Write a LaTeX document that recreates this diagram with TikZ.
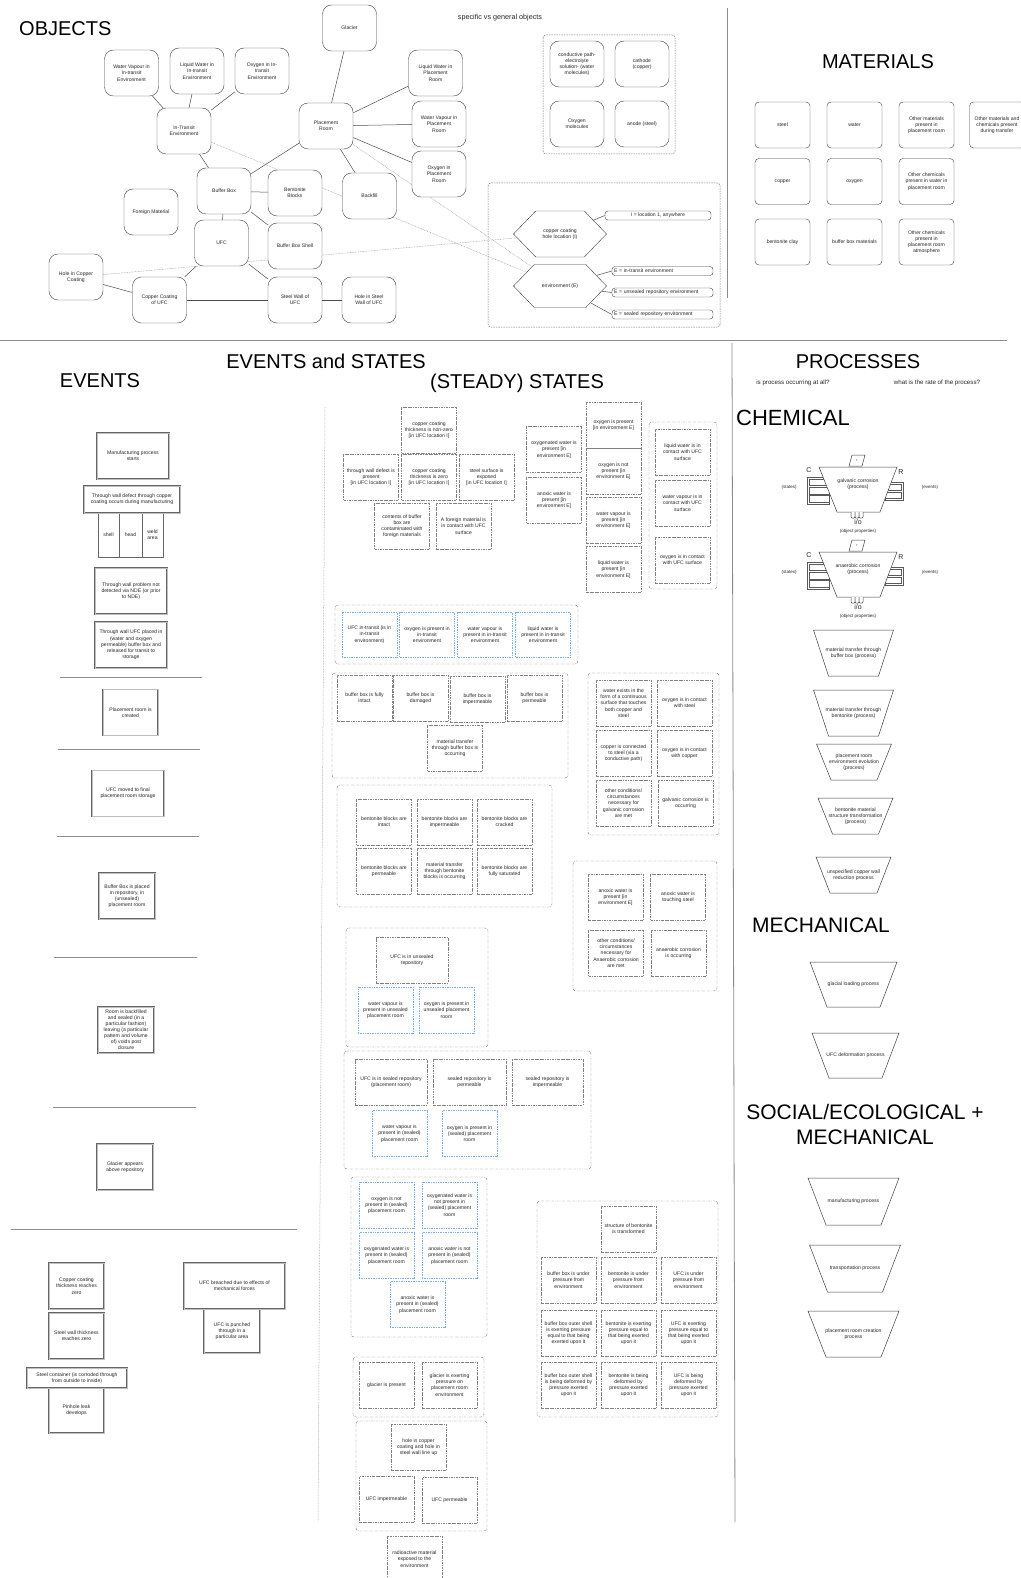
\documentclass[tikz,border=0pt]{standalone}
\usepackage{fontspec}
\setmainfont{Liberation Sans}
\usetikzlibrary{shapes.symbols,backgrounds}
\definecolor{skyline}{RGB}{125,172,228}

% process drawn as an upside-down trapezium: name, x, top, bottom, top half, bottom half, text
\newcommand{\procbox}[7]{%
  \draw[proc] ({#2-#5},#3) -- ({#2+#5},#3) -- ({#2+#6},#4) -- ({#2-#6},#4) -- cycle;
  \node[proctxt] (#1) at (#2,{(#3+#4)/2}) {#7};}

% corrosion process with state bars, event bars, r and i/o: name, top, text
\newcommand{\corrproc}[3]{%
  \draw[bar] (807,{#2+10}) rectangle (829,{#2+37});
  \foreach \b in {0,1,2}
    \draw[bar] (809,{#2+12+8.3*\b}) rectangle (829,{#2+18.5+8.3*\b});
  \draw[bar] (885,{#2+15}) rectangle (903,{#2+33});
  \foreach \b in {0,1}
    \draw[bar] (885,{#2+17+8*\b}) rectangle (901,{#2+23.5+8*\b});
  \draw[proc] (819,#2) -- (897,#2) -- (880,{#2+45}) -- (837,{#2+45}) -- cycle;
  \draw[proc] (849,{#2-1}) -- (862,{#2-1}) -- (865,{#2-12}) -- (852,{#2-12}) -- cycle;
  \foreach \u in {851,855,859}
    \draw[proc, rounded corners=1pt] (\u,{#2+45}) -- (\u,{#2+51}) -- (\u+4,{#2+51}) -- (\u+4,{#2+45});
  \node[proctxt] (#1) at (858,{#2+17}) {#3};
  \node[font=\fontsize{3.5}{4}\selectfont\itshape, inner sep=0pt] (#1-r) at (857,{#2-6.5}) {r};
  \node[font=\fontsize{7}{8}\selectfont, inner sep=0pt] (#1-c) at (809,{#2+3}) {C};
  \node[font=\fontsize{7}{8}\selectfont, inner sep=0pt] (#1-rr) at (901,{#2+5}) {R};
  \node[small] (#1-st) at (789,{#2+20}) {(states)};
  \node[small] (#1-ev) at (930,{#2+20}) {(events)};
  \node[font=\fontsize{7}{8}\selectfont, inner sep=0pt] (#1-io) at (858,{#2+55}) {i/o};
  \node[small] (#1-op) at (858,{#2+64}) {(object properties)};}

\begin{document}
\begin{tikzpicture}[x=1pt, y=-1pt,
  font=\fontsize{5.1}{6.2}\selectfont,
  every node/.style={text=black!85},
  title/.style={font=\fontsize{20}{24}\selectfont, inner sep=0pt, text=black},
  note/.style={inner sep=0pt},
  small/.style={font=\fontsize{4.5}{5.4}\selectfont, inner sep=0pt},
  obj/.style={draw=black!75, fill=white, rounded corners=9pt, minimum width=54pt, minimum height=46pt, align=center, inner sep=1pt},
  mat/.style={draw=black!75, fill=white, rounded corners=4pt, minimum width=55pt, minimum height=46pt, align=center, inner sep=1pt},
  hexa/.style={draw=black!75, fill=white, signal, signal to=east and west, signal pointer angle=92, minimum width=93pt, minimum height=46pt, align=center, inner sep=1pt},
  tag/.style={draw=black!75, fill=white, rounded corners=3pt, minimum height=9pt, inner sep=1pt},
  link/.style={draw=black!70, line width=.5pt},
  hint/.style={draw=black!35, line width=.5pt, dash pattern=on .8pt off .8pt},
  dgroup/.style={draw=black!55, line width=.5pt, dash pattern=on 1.5pt off 1pt, rounded corners=3pt},
  sep/.style={draw=black!45, line width=.8pt},
  evt/.style={draw=black!60, line width=.45pt, double=black!25, double distance=.8pt, fill=white, align=center, minimum height=46pt, inner sep=1pt},
  sub/.style={draw=black!60, line width=.5pt, align=center, minimum height=44pt, inner sep=.5pt},
  st/.style={draw=black!50, line width=.45pt, dash pattern=on 2.6pt off 1pt on .6pt off 1pt, minimum width=55pt, minimum height=46pt, align=center, inner sep=1pt},
  stblue/.style={st, draw=skyline, dash pattern=on .8pt off .9pt},
  sgroup/.style={draw=black!50, line width=.45pt, dash pattern=on 2.6pt off 1pt on .6pt off 1pt, rounded corners=3pt},
  proc/.style={draw=black!75, line width=.5pt, fill=white},
  bar/.style={draw=black!65, line width=.5pt, fill=white},
  proctxt/.style={align=center, inner sep=1pt},
  ]
\useasboundingbox (0,0) rectangle (1020,1578);

%%%%% OBJECTS
\node[title, anchor=west] (t-obj) at (19,29) {OBJECTS};
\node[note, font=\fontsize{7.2}{8}\selectfont] (t-spec) at (500,18) {specific vs general objects};

\node[obj] (wvit) at (131.5,73) {Water Vapour in\\In-transit\\Environment};
\node[obj] (lwit) at (197,71) {Liquid Water in\\In-transit\\Environment};
\node[obj] (oxit) at (262,71) {Oxygen in In-\\transit\\Environment};
\node[obj] (itenv) at (184,131) {In-Transit\\Environment};
\node[obj] (glacier) at (349.5,28) {Glacier};
\node[obj] (proom) at (326,126) {Placement\\Room};
\node[obj] (lwpr) at (435.5,73) {Liquid Water in\\Placement\\Room};
\node[obj] (wvpr) at (439,124) {Water Vapour in\\Placement\\Room};
\node[obj] (oxpr) at (439,174) {Oxygen in\\Placement\\Room};
\node[obj] (bbox) at (224,191) {Buffer Box};
\node[obj] (bent) at (295,193) {Bentonite\\Blocks};
\node[obj] (backfill) at (369.5,196) {Backfill};
\node[obj] (foreign) at (151,212) {Foreign Material};
\node[obj] (ufc) at (221.5,243) {UFC};
\node[obj] (shell) at (295,246) {Buffer Box Shell};
\node[obj] (holecu) at (76,277) {Hole in Copper\\Coating};
\node[obj] (cucoat) at (159.5,300) {Copper Coating\\of UFC};
\node[obj] (steelw) at (295,300) {Steel Wall of\\UFC};
\node[obj] (holest) at (369,300) {Hole in Steel\\Wall of UFC};

\draw[link] (wvit) -- (itenv);
\draw[link] (lwit) -- (itenv);
\draw[link] (oxit) -- (itenv);
\draw[link] (itenv) -- (bbox);
\draw[link] (bbox) -- (proom);
\draw[link] (bbox) -- (bent);
\draw[link] (bbox) -- (ufc);
\draw[link] (bbox) -- (shell);
\draw[link] (ufc) -- (cucoat);
\draw[link] (ufc) -- (steelw);
\draw[link] (holecu) -- (cucoat);
\draw[link] (cucoat) -- (steelw);
\draw[link] (steelw) -- (holest);
\draw[link] (proom) -- (glacier);
\draw[link] (proom) -- (lwpr);
\draw[link] (proom) -- (wvpr);
\draw[link] (proom) -- (oxpr);
\draw[link] (proom) -- (backfill);

% general objects
\draw[dgroup] (543,35) rectangle (675,154);
\node[obj] (cond) at (577,64) {conductive path-\\electrolyte\\solution- (water\\molecules)};
\node[obj] (cath) at (642,64) {cathode\\(copper)};
\node[obj] (oxmol) at (577,124) {Oxygen\\molecules};
\node[obj] (anode) at (642,124) {anode (steel)};

% location and environment
\draw[dgroup] (488,183) rectangle (720,327);
\node[hexa] (hexloc) at (560,234) {copper coating\\hole location (I)};
\node[hexa, minimum height=43pt] (hexenv) at (560,286) {environment (E)};
\node[tag, minimum width=106pt] (iloc) at (658,215.5) {I = location 1, anywhere};
\node[tag, minimum width=101pt, text width=97pt, align=left] (e1) at (662.5,271) {E = in-transit environment};
\node[tag, minimum width=101pt, text width=97pt, align=left] (e2) at (662.5,292.5) {E = unsealed repository environment};
\node[tag, minimum width=101pt, text width=97pt, align=left] (e3) at (662.5,314.5) {E = sealed repository environment};
\draw[link] (hexloc) -- (iloc.west);
\draw[link] (hexenv) -- (e1.west);
\draw[link] (hexenv) -- (e2.west);
\draw[link] (hexenv) -- (e3.west);

\begin{pgfonlayer}{background}
  \draw[hint] (itenv) -- (hexenv);
  \draw[hint] (proom) -- (hexenv);
  \draw[hint] (holecu) -- (hexloc);
\end{pgfonlayer}

%%%%% MATERIALS
\draw[sep] (727,8) -- (727,298);
\node[title] (t-mat) at (878,62) {MATERIALS};
\foreach \mname/\mx/\my/\mtxt in {
  steel/782.5/125/steel,
  water/854.5/125/water,
  othroom/926.5/125/{Other materials\\present in\\placement room},
  othtrans/997/125/{Other materials and\\chemicals present\\during transfer},
  copper/782.5/181.5/copper,
  oxygen/854.5/181.5/oxygen,
  othwater/926.5/181.5/{Other chemicals\\present in water in\\placement room},
  bentclay/782.5/242/bentonite clay,
  bbmat/854.5/242/buffer box materials,
  othatm/926.5/242/{Other chemicals\\present in\\placement room\\atmosphere}}
  \node[mat] (mat-\mname) at (\mx,\my) {\mtxt};

\draw[sep] (0,340) -- (1007,340);

%%%%% EVENTS
\node[title] (t-evst) at (326,361) {EVENTS and STATES};
\node[title] (t-ev) at (100,381) {EVENTS};

\node[evt, minimum width=72pt] (ev1) at (133,456) {Manufacturing process\\starts};
\node[sub, minimum width=21pt] (ev2a) at (108.5,535) {shell};
\node[sub, minimum width=23pt] (ev2b) at (130.5,535) {head};
\node[sub, minimum width=21pt] (ev2c) at (152.5,535) {weld\\area};
\node[evt, minimum width=96pt, minimum height=27pt] (ev2) at (132,499.5) {Through wall defect through copper\\coating occurs during manufacturing};
\node[evt, minimum width=72pt] (ev3) at (131,591) {Through wall problem not\\detected via NDE (or prior\\to NDE)};
\node[evt, minimum width=72pt] (ev4) at (131,645) {Through wall UFC placed in\\(water and oxygen\\permeable) buffer box and\\released for transit to\\storage};
\draw[sep] (60,677) -- (202,677);
\node[evt, minimum width=55pt] (ev5) at (130.5,712.5) {Placement room is\\created};
\draw[sep] (58,749) -- (200,749);
\node[evt, minimum width=72pt] (ev6) at (128,793.5) {UFC moved to final\\placement room storage};
\draw[sep] (57,836) -- (199,836);
\node[evt, minimum width=56pt] (ev7) at (127,896) {Buffer Box is placed\\in repository, in\\(unsealed)\\placement room};
\draw[sep] (54,957) -- (197,957);
\node[evt, minimum width=56pt, font=\fontsize{5.1}{6}\selectfont] (ev8) at (126,1030) {Room is backfilled\\and sealed (in a\\particular fashion)\\leaving (a particular\\pattern and volume\\of) voids post\\closure};
\draw[sep] (53,1107) -- (196,1107);
\node[evt, minimum width=56pt] (ev9) at (125,1167) {Glacier appears\\above repository};
\draw[sep] (11,1229) -- (297,1229);
\node[evt, minimum width=55pt] (ev10) at (76.5,1286) {Copper coating\\thickness reaches\\zero};
\node[evt, minimum width=55pt] (ev11) at (76.5,1336) {Steel wall thickness\\reaches zero};
\node[evt, minimum width=55pt, minimum height=45pt] (ev13) at (76.5,1410.5) {Pinhole leak\\develops};
\node[evt, minimum width=100pt, minimum height=20pt] (ev12) at (77,1378) {Steel container (is corroded through\\from outside to inside)};
\node[evt, minimum width=56pt, minimum height=44pt] (ev15) at (232,1331) {UFC is punched\\through in a\\particular area};
\node[evt, minimum width=101pt] (ev14) at (234.5,1286) {UFC breached due to effects of\\mechanical forces};

%%%%% STATES
\draw[hint] (325,407) -- (318,1522);
\node[title] (t-st) at (517,383) {(STEADY) STATES};

\node[st] (s-cnz) at (429,430) {copper coating\\thickness is non-zero\\{}[in UFC location I]};
\node[st] (s-twd) at (371,477) {through wall defect is\\present\\{}[in UFC location I]};
\node[st] (s-ccz) at (429,477) {copper coating\\thickness is zero\\{}[in UFC location I]};
\node[st] (s-sse) at (486.5,477) {steel surface is\\exposed\\{}[in UFC location I]};
\node[st] (s-cont) at (402,526) {contents of buffer\\box are\\contaminated with\\foreign materials};
\node[st] (s-fm) at (463.5,526) {A foreign material is\\in contact with UFC\\surface};

\node[st] (s-oxw) at (554,449.5) {oxygenated water is\\present [in\\environment E]};
\node[st] (s-anw) at (554,500) {anoxic water is\\present [in\\environment E]};
\node[st] (s-oxp) at (613.5,425.5) {oxygen is present\\{}[in environment E]};
\node[st] (s-oxnp) at (613.5,471) {oxygen is not\\present [in\\environment E]};
\node[st] (s-wvp) at (613.5,520) {water vapour is\\present [in\\environment E]};
\node[st] (s-lwp) at (613.5,569.5) {liquid water is\\present [in\\environment E]};

\draw[sgroup] (649,422) rectangle (717,589);
\node[st] (s-lwc) at (682.5,452) {liquid water is in\\contact with UFC\\surface};
\node[st] (s-wvc) at (682.5,503) {water vapour is in\\contact with UFC\\surface};
\node[st] (s-oxc) at (682.5,560) {oxygen is in contact\\with UFC surface};

\draw[sgroup] (335,605) rectangle (578,664);
\node[stblue, minimum height=45pt] (t-ufc) at (369.5,634.5) {UFC in-transit (is in\\in-transit\\environment)};
\node[stblue, minimum height=45pt] (t-ox) at (427,634.5) {oxygen is present in\\in-transit\\environment};
\node[stblue, minimum height=45pt] (t-wv) at (485,634.5) {water vapour is\\present in in-transit\\environment};
\node[stblue, minimum height=45pt] (t-lw) at (543,634.5) {liquid water is\\present in in-transit\\environment};

\draw[sgroup] (332,673) rectangle (568,778);
\node[st] (b-int) at (364.5,698) {buffer box is fully\\intact};
\node[st] (b-dam) at (420.5,698) {buffer box is\\damaged};
\node[st] (b-imp) at (477.5,699) {buffer box is\\impermeable};
\node[st] (b-perm) at (534.5,698) {buffer box is\\permeable};
\node[st] (b-mt) at (455,748) {material transfer\\through buffer box is\\occurring};

\draw[sgroup] (588,673) rectangle (719,835);
\node[st] (g-wat) at (623.5,703) {water exists in the\\form of a continuous\\surface that touches\\both copper and\\steel};
\node[st] (g-oxs) at (684.5,703) {oxygen is in contact\\with steel};
\node[st] (g-cus) at (623.5,753) {copper is connected\\to steel (via a\\conductive path)};
\node[st] (g-oxcu) at (684.5,753) {oxygen is in contact\\with copper};
\node[st] (g-oth) at (623.5,803) {other conditions/\\circumstances\\necessary for\\galvanic corrosion\\are met};
\node[st] (g-occ) at (685.5,803) {galvanic corrosion is\\occurring};

\draw[sgroup] (337,785) rectangle (552,907);
\node[st] (n-int) at (384,822) {bentonite blocks are\\intact};
\node[st] (n-imp) at (444.5,822) {bentonite blocks are\\impermeable};
\node[st] (n-cra) at (504.5,822) {bentonite blocks are\\cracked};
\node[st] (n-per) at (384,871) {bentonite blocks are\\permeable};
\node[st] (n-mt) at (444.5,871) {material transfer\\through bentonite\\blocks is occurring};
\node[st] (n-sat) at (504.5,871) {bentonite blocks are\\fully saturated};

\draw[sgroup] (573,861) rectangle (717,991);
\node[st] (a-anw) at (615.5,897) {anoxic water is\\present [in\\environment E]};
\node[st] (a-ts) at (678,897) {anoxic water is\\touching steel};
\node[st] (a-oth) at (616,953) {other conditions/\\circumstances\\necessary for\\Anaerobic corrosion\\are met};
\node[st] (a-occ) at (678.5,953) {anaerobic corrosion\\is occurring};

\draw[sgroup] (346,928) rectangle (488,1047);
\node[st, minimum width=72pt] (u-ufc) at (412,960) {UFC is in unsealed\\repository};
\node[stblue] (u-wv) at (385.5,1010) {water vapour is\\present in unsealed\\placement room};
\node[stblue] (u-ox) at (446.5,1010) {oxygen is present in\\unsealed placement\\room};

\draw[sgroup] (344,1051) rectangle (591,1169);
\node[st, minimum width=72pt] (r-ufc) at (391,1082) {UFC is in sealed repository\\(placement room)};
\node[st, minimum width=73pt] (r-perm) at (469.5,1082) {sealed repository is\\permeable};
\node[st, minimum width=71pt] (r-imp) at (547.5,1082) {sealed repository is\\impermeable};
\node[stblue] (r-wv) at (399.5,1133.5) {water vapour is\\present in (sealed)\\placement room};
\node[stblue] (r-ox) at (469.5,1133.5) {oxygen is present in\\(sealed) placement\\room};

\draw[sgroup] (351,1177) rectangle (487,1337);
\node[stblue] (o-oxn) at (386.5,1205) {oxygen is not\\present in (sealed)\\placement room};
\node[stblue] (o-oxwn) at (449.5,1205) {oxygenated water is\\not present in\\(sealed) placement\\room};
\node[stblue] (o-oxw) at (386.5,1255.5) {oxygenated water is\\present in (sealed)\\placement room};
\node[stblue] (o-anwn) at (449.5,1255.5) {anoxic water is not\\present in (sealed)\\placement room};
\node[stblue] (o-anw) at (417.5,1304.5) {anoxic water is\\present in (sealed)\\placement room};

\draw[sgroup] (353,1357) rectangle (484,1417);
\node[st] (gl-p) at (386.5,1385) {glacier is present};
\node[st] (gl-ex) at (449.5,1385) {glacier is exerting\\pressure on\\placement room\\environment};

\draw[sgroup] (356,1421) rectangle (487,1531);
\node[st] (h-line) at (418.5,1447) {hole in copper\\coating and hole in\\steel wall line up};
\node[st] (h-imp) at (386.5,1499.5) {UFC impermeable};
\node[st] (h-perm) at (449.5,1500.5) {UFC permeable};
\node[st] (rad) at (414.5,1559) {radioactive material\\exposed to the\\environment};

\draw[sgroup] (537,1201) rectangle (718,1417);
\node[st] (m-str) at (628.5,1229) {structure of bentonite\\is transformed};
\node[st] (m-bbp) at (568.5,1280) {buffer box is under\\pressure from\\environment};
\node[st] (m-bp) at (628.5,1280) {bentonite is under\\pressure from\\environment};
\node[st] (m-up) at (688.5,1280) {UFC is under\\pressure from\\environment};
\node[st] (m-bbe) at (568.5,1333) {buffer box outer shell\\is exerting pressure\\equal to that being\\exerted upon it};
\node[st] (m-be) at (628.5,1333) {bentonite is exerting\\pressure equal to\\that being exerted\\upon it};
\node[st] (m-ue) at (688.5,1333) {UFC is exerting\\pressure equal to\\that being exerted\\upon it};
\node[st] (m-bbd) at (568.5,1385) {buffer box outer shell\\is being deformed by\\pressure exerted\\upon it};
\node[st] (m-bd) at (628.5,1385) {bentonite is being\\deformed by\\pressure exerted\\upon it};
\node[st] (m-ud) at (688.5,1385) {UFC is being\\deformed by\\pressure exerted\\upon it};

%%%%% PROCESSES
\draw[sep] (732,343) -- (735,1522);
\node[title] (t-proc) at (858,362) {PROCESSES};
\node[note, font=\fontsize{6.2}{7}\selectfont] (q-all) at (793,383) {is process occurring at all?};
\node[note, font=\fontsize{6.2}{7}\selectfont] (q-rate) at (937,383) {what is the rate of the process?};
\node[title, anchor=west, font=\fontsize{22}{26}\selectfont] (t-chem) at (736,418) {CHEMICAL};

\corrproc{p-galv}{467}{galvanic corrosion\\(process)}
\corrproc{p-anae}{552}{anaerobic corrosion\\(process)}

\procbox{p-buf}{853.5}{630}{676}{40}{25}{material transfer through\\buffer box (process)}
\procbox{p-bent}{853.5}{690}{736}{40}{25}{material transfer through\\bentonite (process)}
\procbox{p-env}{854}{744}{780}{37.5}{23}{placement room\\environment evolution\\(process)}
\procbox{p-str}{855.5}{798}{834}{37.5}{23}{bentonite material\\structure transformation\\(process)}
\procbox{p-cu}{853.5}{857}{893}{37.5}{23.5}{unspecified copper wall\\reduction process}

\node[title, anchor=west, font=\fontsize{21}{25}\selectfont] (t-mech) at (752,925) {MECHANICAL};
\procbox{p-glac}{853.5}{962}{1007}{43.5}{26.5}{glacial loading process}
\procbox{p-def}{855.5}{1033}{1078}{43.5}{26.5}{UFC deformation process}

\node[title, align=center, font=\fontsize{21}{25}\selectfont] (t-soc) at (865,1124) {SOCIAL/ECOLOGICAL +\\MECHANICAL};
\procbox{p-manu}{853.5}{1178}{1225}{45.5}{27.5}{manufacturing process}
\procbox{p-trans}{855}{1245}{1292}{45.5}{27.5}{transportation process}
\procbox{p-room}{853.5}{1311}{1357}{45.5}{27.5}{placement room creation\\process}

\end{tikzpicture}
\end{document}
